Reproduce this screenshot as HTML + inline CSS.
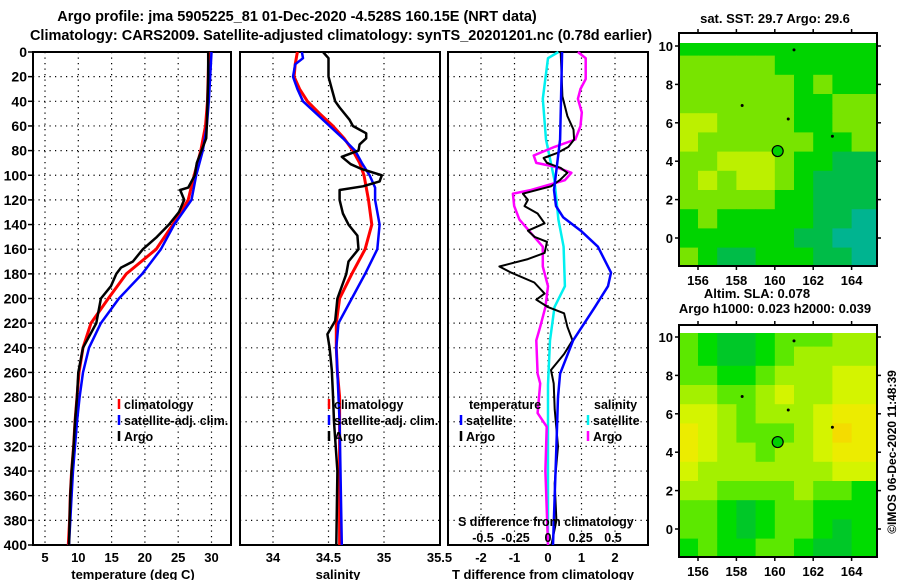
<!DOCTYPE html>
<html><head><meta charset="utf-8"><style>
body{margin:0;background:#fff}
svg{display:block}
text{font-family:"Liberation Sans",sans-serif;font-weight:bold;fill:#000}
</style></head><body>
<svg id="fig" width="900" height="580" viewBox="0 0 900 580" xmlns="http://www.w3.org/2000/svg" font-size="14">
<text x="297" y="21" text-anchor="middle" style="font-size:14.5px">Argo profile: jma 5905225_81 01-Dec-2020 -4.528S 160.15E (NRT data)</text>
<text x="341" y="40" text-anchor="middle" style="font-size:14.5px">Climatology: CARS2009. Satellite-adjusted climatology: synTS_20201201.nc (0.78d earlier)</text>
<g id="g"></g>
</svg>
<script>
// ---- data ----
const depthTClim=[0,20,40,60,80,100,120,140,160,180,200,220,240,260,280,300,320,340,360,380,400];
const tempClim=[29.6,29.5,29.4,29.1,28.4,27.4,26.5,24.2,21.7,17.2,14.5,11.9,10.7,10.1,9.8,9.5,9.3,9.0,8.8,8.7,8.5];
const depthTSat=[0,20,40,60,80,100,120,140,160,180,200,220,240,260,280,300,320,340,360,380,400];
const tempSat=[30.0,29.8,29.6,29.3,28.7,27.7,27.0,24.4,22.4,19.6,16.1,13.4,11.6,10.7,10.2,9.8,9.5,9.2,9.0,8.8,8.6];
const depthTArgo=[0,20,40,60,70,80,90,100,110,112,120,130,140,150,160,170,175,180,190,200,220,240,260,280,300,320,340,360,380,400];
const tempArgo=[29.5,29.5,29.4,29.3,29.2,28.5,27.8,27.5,26.5,25.3,25.9,25.1,23.6,21.8,19.7,18.2,16.4,15.7,14.9,13.4,12.7,10.7,10.0,9.8,9.5,9.3,9.0,8.8,8.7,8.6];

const depthSClim=[0,10,20,30,40,50,60,70,80,90,100,120,140,160,180,200,220,240,260,280,300,350,400];
const salClim=[34.22,34.2,34.19,34.24,34.31,34.42,34.54,34.64,34.72,34.78,34.82,34.86,34.89,34.83,34.71,34.6,34.57,34.57,34.58,34.6,34.6,34.6,34.6];
const depthSSat=[0,5,10,20,30,40,50,60,70,80,90,100,110,120,140,160,180,200,220,240,260,300,400];
const salSat=[34.26,34.27,34.2,34.18,34.22,34.27,34.39,34.51,34.63,34.74,34.8,34.87,34.92,34.92,34.96,34.94,34.83,34.71,34.59,34.57,34.58,34.6,34.62];
const depthSArgo=[0,5,20,30,40,45,55,60,66,70,75,80,85,91,95,100,105,109,112,120,131,140,149,160,170,180,200,218,229,240,258,277,300,340,400];
const salArgo=[34.45,34.5,34.5,34.53,34.56,34.6,34.69,34.72,34.84,34.84,34.78,34.77,34.62,34.7,34.8,34.98,34.96,34.81,34.6,34.6,34.63,34.68,34.76,34.77,34.68,34.66,34.58,34.56,34.49,34.51,34.53,34.54,34.55,34.58,34.57];

const depthDTSat=[0,71,112,125,134,145,158,179,190,207,234,261,280,320,360,400];
const dTSat=[0.42,0.36,0.18,0.24,0.45,0.98,1.49,1.88,1.79,1.4,0.75,0.36,0.3,0.25,0.2,0.15];
const depthDTArgo=[0,36,52,63,71,77,82,86,90,94,98,104,109,115,120,125,131,139,145,150,154,163,168,174,179,187,196,201,207,212,223,234,245,258,269,290,320,350,380,400];
const dTArgo=[0.38,0.43,0.58,0.76,0.78,0.61,0.27,-0.13,-0.03,0.38,0.58,0.35,0.09,-0.75,-0.6,-0.7,-0.31,-0.1,-0.6,-0.4,-0.03,-0.1,-0.6,-1.45,-1.1,-0.41,-0.1,-0.35,0.0,0.48,0.58,0.73,0.48,0.09,0.17,0.2,0.3,0.2,0.25,0.1];
const depthDSSat=[0,5,38,71,104,136,158,190,207,234,270,320,400];
const dSSat=[0.08,0.0,-0.04,-0.015,0.05,0.08,0.12,0.13,0.05,0.015,0.0,0.0,0.0];
const depthDSArgo=[0,5,22,30,38,49,60,71,77,84,90,93,98,104,112,115,125,136,147,158,174,190,207,223,234,261,269,293,304,340,400];
const dSArgo=[0.23,0.29,0.29,0.25,0.23,0.26,0.25,0.21,0.05,-0.11,-0.09,0.05,0.18,0.13,-0.13,-0.27,-0.26,-0.22,-0.13,-0.04,-0.04,0.0,-0.02,-0.06,-0.09,-0.08,-0.06,-0.08,-0.01,-0.02,0.0];

const depthTicks=[0,20,40,60,80,100,120,140,160,180,200,220,240,260,280,300,320,340,360,380,400];
const tempTicks=[5,10,15,20,25,30];
const salTicks=[34,34.5,35,35.5];
const dTTicks=[-2,-1,0,1,2];
const dTLabels=["-2","-1","0","1","2"];
const dSTicks=[-0.5,-0.25,0,0.25,0.5];
const dSLabels=["-0.5","-0.25","0","0.25","0.5"];
const lonTicks=[156,158,160,162,164];
const latTicks=[0,2,4,6,8,10];

const sstGrid=[
[2,2,2,2,2,2,2,2,2,2],
[3,3,3,3,3,2,2,2,2,2],
[3,3,3,3,3,3,2,3,2,2],
[3,3,3,3,3,3,2,2,3,3],
[4,4,3,3,3,3,2,2,3,3],
[4,3,3,3,3,3,3,2,2,3],
[3,3,4,4,4,3,2,2,1,1],
[3,4,3,4,4,3,2,1,1,1],
[3,3,3,3,3,2,2,1,1,1],
[2,3,2,2,2,2,2,1,1,0],
[2,2,2,2,2,2,1,1,0,0],
[3,2,1,1,2,2,2,1,1,0]];
const slaGrid=[
[2,1,0,0,1,2,2,2,3,3],
[2,1,0,0,1,2,3,3,3,3],
[2,2,1,1,2,3,3,3,4,4],
[3,3,2,2,3,4,3,3,4,4],
[4,4,3,2,3,3,3,4,5,5],
[5,4,3,2,2,2,3,4,6,5],
[5,4,3,3,2,3,3,4,5,5],
[4,3,3,3,3,3,3,3,4,4],
[3,3,2,2,2,2,3,2,2,1],
[2,2,1,0,1,2,2,1,1,1],
[2,2,1,0,1,2,2,1,0,1],
[1,2,1,1,2,2,1,0,0,1]];
const argoLon=160.15, argoLat=4.528;

const NS="http://www.w3.org/2000/svg";
const G=document.getElementById('g');
function el(tag,attrs,parent){const e=document.createElementNS(NS,tag);for(const k in attrs)e.setAttribute(k,attrs[k]);(parent||G).appendChild(e);return e;}
function txt(s,x,y,anchor,parent,size){const t=el('text',{x:x,y:y,'text-anchor':anchor||'start'},parent);t.style.fontSize=(size||14)+'px';t.textContent=s;return t;}

const TOP=52,BOT=545;
const yD=d=>TOP+d*(BOT-TOP)/400;
const panels=[
 {name:'temperature-panel',x0:33,x1:231,fx:v=>45+(v-5)*6.66},
 {name:'salinity-panel',x0:240,x1:440,fx:v=>273+(v-34)*111},
 {name:'difference-panel',x0:448,x1:648,fx:v=>548+v*33.5}
];
const fS=v=>548+v*130;

panels.forEach((p,i)=>{
  const g=el('g',{});
  
  
  depthTicks.forEach(d=>{if(d>0&&d<400){const l=el('line',{x1:p.x0,x2:p.x1,y1:yD(d),y2:yD(d),stroke:'#000','stroke-width':1.2,'stroke-dasharray':'1.2 4.3'},g);}});
  const xt=i==0?tempTicks:i==1?salTicks:dTTicks;
  xt.forEach(v=>{const x=p.fx(v);if(x>p.x0+2&&x<p.x1-2){const l=el('line',{x1:x,x2:x,y1:TOP,y2:BOT,stroke:'#000','stroke-width':1.2,'stroke-dasharray':'1.2 4.3'},g);}});
  const r=el('rect',{x:p.x0,y:TOP,width:p.x1-p.x0,height:BOT-TOP,fill:'none',stroke:'#000','stroke-width':2},g);
  
  xt.forEach((v,k)=>{const t=txt(i==2?dTLabels[k]:String(v),p.fx(v),562,'middle',g,13);});
});
depthTicks.forEach(d=>{const t=txt(String(d),27,yD(d)+5,'end',null,14);
  const l=el('line',{x1:28,x2:33,y1:yD(d),y2:yD(d),stroke:'#000','stroke-width':1.5});});
[['temperature (deg C)',133,'x-axis-title-temperature'],['salinity',338,'x-axis-title-salinity'],['T difference from climatology',543,'x-axis-title-t-diff']].forEach(a=>{const t=txt(a[0],a[1],579,'middle',null,13);});

function series(depths,vals,fx,color,name,w){
  const pts=depths.map((d,k)=>fx(vals[k]).toFixed(1)+','+yD(d).toFixed(1)).join(' ');
  const pl=el('polyline',{points:pts,fill:'none',stroke:color,'stroke-width':w||2.5,'stroke-linejoin':'round'});
  
  
}
const fT=panels[0].fx,fSal=panels[1].fx,fDT=panels[2].fx;
series(depthTClim,tempClim,fT,'#f00','temp-climatology-line',3);
series(depthTSat,tempSat,fT,'#00f','temp-satellite-line',2.5);
series(depthTArgo,tempArgo,fT,'#000','temp-argo-line',2.5);
series(depthSClim,salClim,fSal,'#f00','salinity-climatology-line',3);
series(depthSSat,salSat,fSal,'#00f','salinity-satellite-line',2.5);
series(depthSArgo,salArgo,fSal,'#000','salinity-argo-line',2.5);
series(depthDSSat,dSSat,fS,'#00f0f0','s-diff-satellite-line',2.5);
series(depthDSArgo,dSArgo,fS,'#f0f','s-diff-argo-line',2.5);
series(depthDTArgo,dTArgo,fDT,'#000','t-diff-argo-line',2);
series(depthDTSat,dTSat,fDT,'#00f','t-diff-satellite-line',2.5);

function legend(x,y,color,label,name){
  const g=el('g',{});
  el('line',{x1:x,x2:x,y1:y-10,y2:y,stroke:color,'stroke-width':2.5},g);
  txt(label,x+5,y,'start',g,12.5);
}
legend(119,409,'#f00','climatology','legend-climatology');
legend(119,425,'#00f','satellite-adj. clim.','legend-satellite-adj');
legend(119,441,'#000','Argo','legend-argo');
legend(329,409,'#f00','climatology','legend-s-climatology');
legend(329,425,'#00f','satellite-adj. clim.','legend-s-satellite-adj');
legend(329,441,'#000','Argo','legend-s-argo');
{const t=txt('temperature',469,409,'start',null,12.5);}
{const t=txt('salinity',594,409,'start',null,12.5);}
legend(461,425,'#00f','satellite','legend-t-satellite');
legend(461,441,'#000','Argo','legend-t-argo');
legend(588,425,'#00f0f0','satellite','legend-s-satellite');
legend(588,441,'#f0f','Argo','legend-s-argo-diff');
{const t=txt('S difference from climatology',458,526,'start',null,12.5);}
dSTicks.forEach((v,k)=>{const t=txt(dSLabels[k],fS(v),542,'middle',null,12.5);});

const sstCols=['#00b490','#00bc48','#00d400','#78e400','#bcf000'];
const slaCols=['#00c828','#00dc00','#5ce800','#a4f000','#d4f400','#ecec00','#f4dc00'];
function map(name,yTop,yDataTop,yBot,grid,cols,title){
  const X0=679,X1=877;
  const fx=lon=>698+(lon-156)*19.2;
  const lat10=yTop==33?46:337;
  const fy=lat=>lat10+(10-lat)*19.2;
  const g=el('g',{});
  grid.forEach((row,ri)=>row.forEach((v,ci)=>{
    const lat=10.5-ri, lon=155+ci;
    const y0=Math.max(yDataTop,fy(lat)), y1=Math.min(yBot,fy(lat-1)+(ri==grid.length-1?20:0));
    const x0=Math.max(X0,fx(lon)), x1=Math.min(X1,fx(lon+1)+(ci==row.length-1?20:0));
    const r=el('rect',{x:x0,y:y0,width:Math.max(0,x1-x0)+0.5,height:Math.max(0,y1-y0)+0.5,fill:cols[v]},g);
    
  }));
  const fr=el('rect',{x:X0,y:yTop,width:X1-X0,height:yBot-yTop,fill:'none',stroke:'#000','stroke-width':2},g);
  
  lonTicks.forEach(l=>{const x=fx(l);
    el('line',{x1:x,x2:x,y1:yTop-4,y2:yTop,stroke:'#000','stroke-width':1.5},g);
    el('line',{x1:x,x2:x,y1:yBot,y2:yBot+4,stroke:'#000','stroke-width':1.5},g);
    const t=txt(String(l),x,yBot+19,'middle',g,13);});
  latTicks.forEach(l=>{const y=fy(l);
    el('line',{x1:X0-4,x2:X0,y1:y,y2:y,stroke:'#000','stroke-width':1.5},g);
    el('line',{x1:X1,x2:X1+4,y1:y,y2:y,stroke:'#000','stroke-width':1.5},g);
    const t=txt(String(l),673,y+5,'end',g,13);});
  const c=el('circle',{cx:fx(argoLon),cy:fy(argoLat),r:5.5,fill:'#00d000',stroke:'#000','stroke-width':1.2},g);
  
  [[158.3,6.9],[163,5.3],[161,9.8],[160.7,6.2]].forEach(p=>{el('circle',{cx:fx(p[0]),cy:fy(p[1]),r:1.5,fill:'#000'},g);});
  if(title){const t=txt(title[0],title[1],title[2],'middle',g,13);}
}
map('sst-map',33,43,266,sstGrid,sstCols,['sat. SST: 29.7 Argo: 29.6',775,23]);
map('sla-map',325,333,557,slaGrid,slaCols,null);
{const t=txt('Altim. SLA: 0.078',757,298,'middle',null,13);}
{const t=txt('Argo h1000: 0.023 h2000: 0.039',775,313,'middle',null,13);}
{const t=txt('©IMOS 06-Dec-2020 11:48:39',0,0,'middle',null,12);t.setAttribute('transform','translate(896,452) rotate(-90)');}
</script>
</body></html>
